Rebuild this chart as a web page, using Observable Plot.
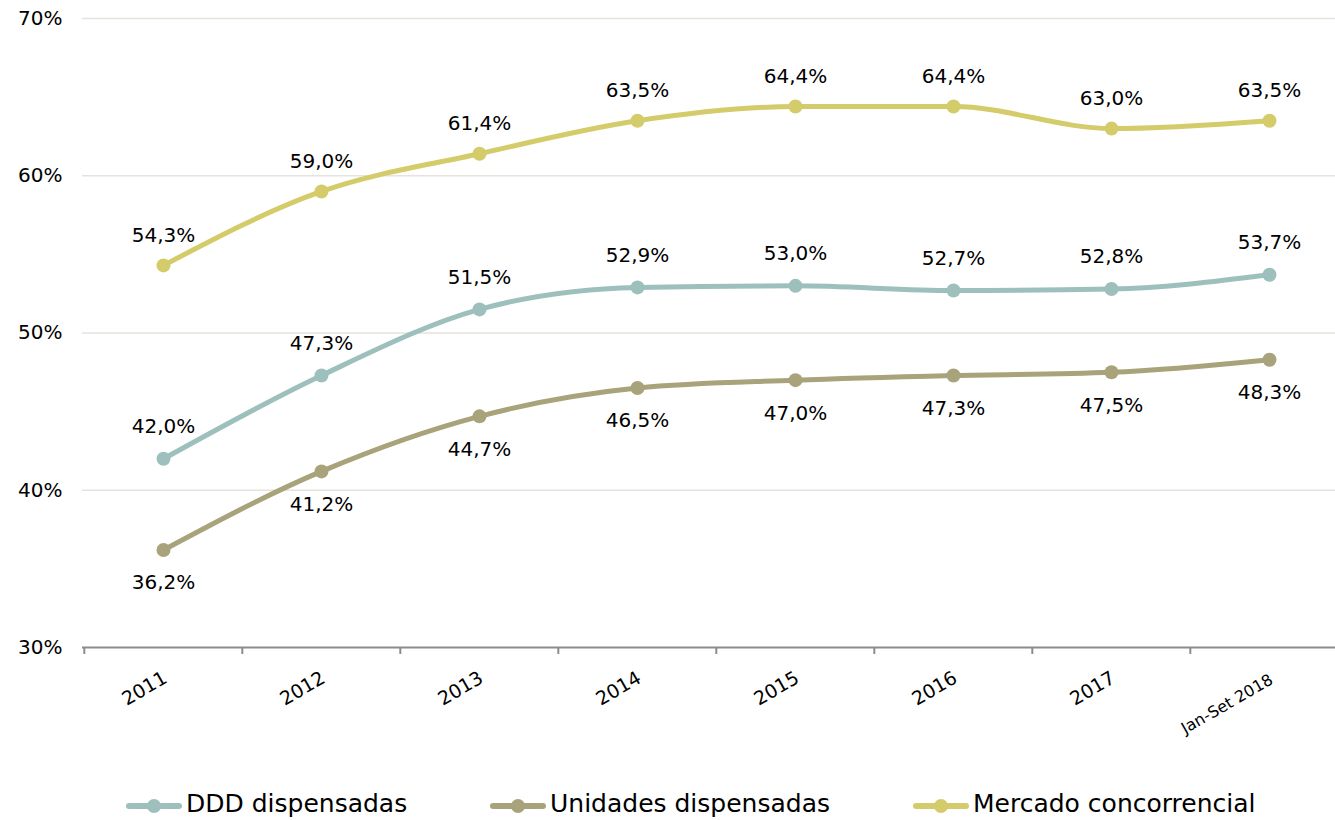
<!DOCTYPE html>
<html>
<head>
<meta charset="utf-8">
<script src="https://cdn.jsdelivr.net/npm/d3@7"></script>
<script src="https://cdn.jsdelivr.net/npm/@observablehq/plot@0.6"></script>
<style>
  html, body { margin: 0; padding: 0; background: #fff; }
  #wrap { position: relative; width: 1335px; height: 820px; overflow: hidden; font-family: "DejaVu Sans", sans-serif; }
  .leg { position: absolute; top: 789px; display: flex; align-items: center; font-size: 25px; line-height: 30px; color: #000; white-space: nowrap; }
  .sw { position: relative; width: 56px; height: 30px; margin-right: 4px; }
  .sw .ln { position: absolute; left: 0; right: 0; top: 14px; height: 6px; border-radius: 3px; }
  .sw .pt { position: absolute; left: 21px; top: 10px; width: 14px; height: 14px; border-radius: 7px; }
</style>
</head>
<body>
<div id="wrap"><div id="chart"></div><div id="legend"></div></div>
<script>
const categories = ["2011", "2012", "2013", "2014", "2015", "2016", "2017", "Jan-Set 2018"];
const seriesNames = ["DDD dispensadas", "Unidades dispensadas", "Mercado concorrencial"];
const dddValues = [42.0, 47.3, 51.5, 52.9, 53.0, 52.7, 52.8, 53.7];
const unidadesValues = [36.2, 41.2, 44.7, 46.5, 47.0, 47.3, 47.5, 48.3];
const mercadoValues = [54.3, 59.0, 61.4, 63.5, 64.4, 64.4, 63.0, 63.5];
const yTicks = [30, 40, 50, 60, 70];
const colors = ["#9dc0bd", "#a8a37a", "#d4cc6a"];
const labelDy = [-32, 33, -30];

const valuesBySeries = [dddValues, unidadesValues, mercadoValues];
const rows = [];
seriesNames.forEach((s, si) => {
  categories.forEach((c, i) => rows.push({series: s, si, cat: c, value: valuesBySeries[si][i]}));
});
const fmt = v => v.toFixed(1).replace(".", ",") + "%";

const W = 1335, H = 820;
const xRange = [82, 1349];
const step = (xRange[1] - xRange[0]) / categories.length;

const marks = [
  Plot.ruleY(yTicks.filter(t => t > 30), {y: d => d, stroke: "#e6e3dc", strokeWidth: 1.5}),
  Plot.ruleY([30], {stroke: "#8c8c8c", strokeWidth: 2}),
  Plot.ruleX(categories, {x: d => d, y1: 30, y2: 30, dx: -step / 2, insetBottom: -7, stroke: "#8c8c8c", strokeWidth: 2}),
  Plot.axisY(yTicks, {label: null, tickSize: 0, tickPadding: 20, tickFormat: d => d + "%", fontSize: 20, fill: "#000"}),
  Plot.text(categories.filter(c => c.length <= 4), {x: d => d, y: () => 30, text: d => d, rotate: -30, textAnchor: "end", dy: 29, dx: 2, fontSize: 19, fill: "#000"}),
  Plot.text(categories.filter(c => c.length > 4), {x: d => d, y: () => 30, text: d => d, rotate: -30, textAnchor: "end", dy: 31, dx: 2, fontSize: 16, fill: "#000"})
];
seriesNames.forEach((s, si) => {
  const data = rows.filter(r => r.si === si);
  marks.push(Plot.line(data, {x: "cat", y: "value", stroke: colors[si], strokeWidth: 5, curve: "monotone-x"}));
  marks.push(Plot.dot(data, {x: "cat", y: "value", fill: colors[si], r: 7}));
  marks.push(Plot.text(data, {x: "cat", y: "value", text: d => fmt(d.value), dy: labelDy[si], fontSize: 20, fill: "#000"}));
});

const chart = Plot.plot({
  width: W,
  height: H,
  marginTop: 18,
  marginBottom: H - 647,
  marginLeft: 82,
  marginRight: 0,
  style: {fontFamily: "DejaVu Sans, sans-serif", background: "#fff", overflow: "visible"},
  x: {type: "point", domain: categories, range: xRange, padding: 0.5, axis: null},
  y: {domain: [30, 70], axis: null},
  marks
});
document.getElementById("chart").appendChild(chart);

const legendLefts = [126, 490, 913];
const leg = document.getElementById("legend");
seriesNames.forEach((s, si) => {
  const item = document.createElement("div");
  item.className = "leg";
  item.style.left = legendLefts[si] + "px";
  item.innerHTML = `<div class="sw"><div class="ln" style="background:${colors[si]}"></div><div class="pt" style="background:${colors[si]}"></div></div><span>${s}</span>`;
  leg.appendChild(item);
});
</script>
</body>
</html>
